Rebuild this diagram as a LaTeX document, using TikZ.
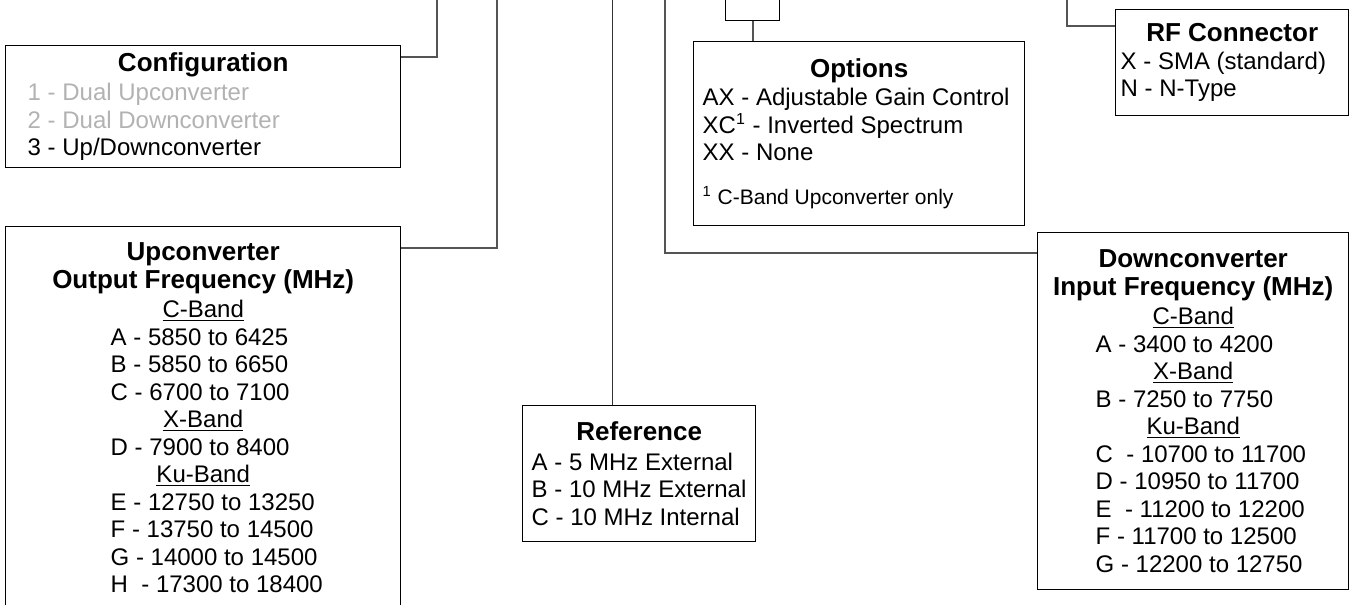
\documentclass[tikz,border=0pt]{standalone}
\usepackage{fontspec}
\setmainfont{Liberation Sans}
\usepackage{xcolor}
\usetikzlibrary{calc, positioning}

\definecolor{dimtxt}{gray}{0.7}
\definecolor{wire}{gray}{0.33}
\newlength{\rowwd}
\newcommand{\ttl}[1]{{\fontsize{13}{13.75}\selectfont\bfseries #1}}
\newcommand{\row}[1]{\makebox[\rowwd][l]{#1}}

\begin{document}
\begin{tikzpicture}[x=0.5pt, y=-0.5pt,
  blk/.style={draw, line width=0.7pt, rectangle, inner sep=0pt, anchor=north west,
    align=center, font=\fontsize{12}{13.75}\selectfont},
  rows/.style={execute at begin node={\setlength{\rowwd}{#1}}},
  conn/.style={draw=wire, line width=1pt},
  thinconn/.style={draw=black!80, line width=0.5pt}]
\clip (0,0) rectangle (1351,605);

\node[blk, minimum width=197.5pt, minimum height=61pt, rows=175.5pt] (conf) at (5,45)
  {\ttl{Configuration}\\[0.75pt]
   \row{\color{dimtxt}1 - Dual Upconverter}\\
   \row{\color{dimtxt}2 - Dual Downconverter}\\
   \row{3 - Up/Downconverter}};
\node[blk, minimum width=197.5pt, minimum height=191pt, rows=92.5pt] (upc) at (5,226)
  {\ttl{Upconverter}\\ \ttl{Output Frequency (MHz)}\\[1pt]
   \underline{C-Band}\\
   \row{A - 5850 to 6425}\\
   \row{B - 5850 to 6650}\\
   \row{C - 6700 to 7100}\\
   \underline{X-Band}\\
   \row{D - 7900 to 8400}\\
   \underline{Ku-Band}\\
   \row{E - 12750 to 13250}\\
   \row{F - 13750 to 14500}\\
   \row{G - 14000 to 14500}\\
   \row{H\ \ - 17300 to 18400}};
\node[blk, minimum width=116.5pt, minimum height=68pt, rows=107.5pt] (refn) at (522,405)
  {\ttl{Reference}\\[1pt]
   \row{A - 5 MHz External}\\
   \row{B - 10 MHz External}\\
   \row{C - 10 MHz Internal}};
\node[draw, line width=0.7pt, minimum width=27pt, minimum height=21pt, inner sep=0pt,
  anchor=south west] (sel) at (725,21) {};
\node[blk, minimum width=165.5pt, minimum height=92pt, rows=156.5pt] (opts) at (693,41)
  {\ttl{Options}\\[0.5pt]
   \row{AX - Adjustable Gain Control}\\
   \row{XC\textsuperscript{1} - Inverted Spectrum}\\
   \row{XX - None}\\[8pt]
   \row{\fontsize{10.5}{12}\selectfont\textsuperscript{1} C-Band Upconverter only}};
\node[blk, minimum width=116.5pt, minimum height=53pt, rows=111.5pt] (rfc) at (1115,9)
  {\ttl{RF Connector}\\
   \row{X - SMA (standard)}\\
   \row{N - N-Type}};
\node[blk, minimum width=155.5pt, minimum height=178.5pt, rows=97.5pt] (dnc) at (1037,232)
  {\ttl{Downconverter}\\ \ttl{Input Frequency (MHz)}\\[1pt]
   \underline{C-Band}\\
   \row{A - 3400 to 4200}\\
   \underline{X-Band}\\
   \row{B - 7250 to 7750}\\
   \underline{Ku-Band}\\
   \row{C\ \ - 10700 to 11700}\\
   \row{D - 10950 to 11700}\\
   \row{E\ \ - 11200 to 12200}\\
   \row{F - 11700 to 12500}\\
   \row{G - 12200 to 12750}};

% lines run on above the cut
\coordinate (conftop) at (437,-5);
\coordinate (upctop) at (497,-5);
\coordinate (reftop) at (612,-5);
\coordinate (dnctop) at (665,-5);
\coordinate (rftop) at (1067,-5);

\draw[conn] (conf.north east) ++(0,12) -| (conftop);
\draw[conn] (upc.north east) ++(0,22) -| (upctop);
\draw[thinconn] (reftop) -- (reftop |- refn.north);
\draw[conn] (dnctop) |- ($(dnc.north west)+(0,21)$);
\draw[conn] (sel.south) -- (sel.south |- opts.north);
\draw[conn] (rftop) |- ($(rfc.north west)+(0,17)$);
\end{tikzpicture}
\end{document}
